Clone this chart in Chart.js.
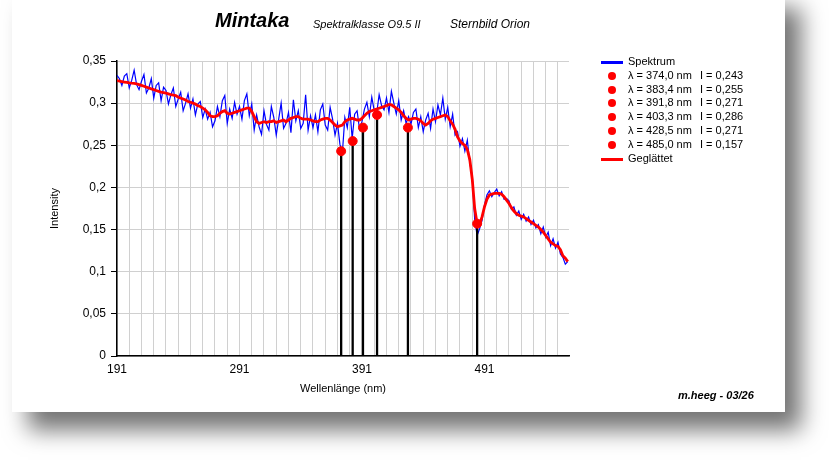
<html>
<head>
	<title>Mintaka</title>
	<meta charset="utf-8">
	<script src="https://cdn.jsdelivr.net/npm/chart.js@4.4.1/dist/chart.umd.min.js"></script>
	<style type="text/css">
	body{
		margin: 0;
		background-color: #fff;
		font-family: "Liberation Sans", Arial, sans-serif;
	}
	.karte{
		position: absolute;
		left: 12px;
		top: -10px;
		width: 773px;
		height: 422px;
		background-color: #fff;
		box-shadow: 16px 18px 22px rgba(0,0,0,0.55);
	}
	#chart{
		position: absolute;
		left: 0;
		top: 0;
	}
	.kopf{
		position: absolute;
		white-space: nowrap;
		font-style: italic;
		color: #000;
	}
	.stern{ left: 215px; top: 9px; font-size: 20px; font-weight: bold; }
	.klasse{ left: 313px; top: 18px; font-size: 11px; }
	.bild{ left: 450px; top: 17px; font-size: 12px; }
	.autor{ left: 678px; top: 389px; font-size: 11px; font-weight: bold; }

	#legende{
		position: absolute;
		left: 600px;
		top: 55px;
		font-size: 11px;
		color: #000;
	}
	#legende .zeile{
		position: relative;
		height: 13.8px;
		white-space: nowrap;
	}
	#legende .strich{
		position: absolute;
		left: 1px;
		top: 6px;
		width: 22px;
		height: 3px;
	}
	#legende .punkt{
		position: absolute;
		left: 8px;
		top: 3px;
		width: 8px;
		height: 8px;
		border-radius: 50%;
		background-color: #ff0000;
	}
	#legende .txt{ position: absolute; left: 28px; top: 0; }
	#legende .wert{ position: absolute; left: 100px; top: 0; }
	</style>
</head>
<body>
	<div class="karte"></div>
	<canvas id="chart" width="829" height="460"></canvas>
	<div class="kopf stern">Mintaka</div>
	<div class="kopf klasse">Spektralklasse O9.5 II</div>
	<div class="kopf bild">Sternbild Orion</div>
	<div class="kopf autor">m.heeg - 03/26</div>
	<div id="legende"></div>

	<script type="text/javascript">
	// Wellenlaengen (nm) der Messpunkte
	var wellenlaenge = [
		191,193,195,197,199,201,203,205,207,209,
		211,213,215,217,219,221,223,225,227,229,
		231,233,235,237,239,241,243,245,247,249,
		251,253,255,257,259,261,263,265,267,269,
		271,273,275,277,279,281,283,285,287,289,
		291,293,295,297,299,301,303,305,307,309,
		311,313,315,317,319,321,323,325,327,329,
		331,333,335,337,339,341,343,345,347,349,
		351,353,355,357,359,361,363,365,367,369,
		371,373,375,377,379,381,383,385,387,389,
		391,393,395,397,399,401,403,405,407,409,
		411,413,415,417,419,421,423,425,427,429,
		431,433,435,437,439,441,443,445,447,449,
		451,453,455,457,459,461,463,465,467,469,
		471,473,475,477,479,481,483,485,487,489,
		491,493,495,497,499,501,503,505,507,509,
		511,513,515,517,519,521,523,525,527,529,
		531,533,535,537,539,541,543,545,547,549,
		551,553,555,557,559
	];

	// Spektrum (Rohdaten)
	var spektrum = [
		.333,.329,.321,.332,.335,.318,.327,.339,.322,.316,
		.326,.334,.312,.318,.329,.306,.321,.324,.303,.319,
		.315,.299,.310,.318,.296,.305,.313,.291,.300,.311,
		.294,.305,.286,.299,.302,.283,.293,.281,.289,.272,
		.279,.296,.284,.303,.309,.276,.293,.282,.301,.287,
		.296,.281,.303,.311,.285,.299,.268,.286,.272,.263,
		.291,.275,.268,.296,.283,.262,.281,.300,.270,.276,
		.289,.265,.304,.279,.291,.270,.276,.310,.268,.285,
		.271,.286,.266,.292,.299,.274,.268,.295,.281,.262,
		.276,.251,.241,.283,.271,.295,.258,.287,.291,.269,
		.278,.293,.301,.284,.307,.291,.288,.310,.297,.292,
		.306,.289,.314,.300,.287,.303,.280,.291,.276,.284,
		.275,.289,.293,.271,.284,.266,.280,.288,.270,.293,
		.278,.298,.286,.306,.281,.295,.272,.287,.262,.266,
		.249,.258,.243,.256,.229,.214,.162,.143,.151,.161,
		.179,.191,.196,.189,.194,.198,.190,.195,.186,.187,
		.184,.174,.177,.167,.172,.162,.168,.160,.165,.156,
		.161,.152,.156,.145,.153,.141,.147,.131,.139,.128,
		.135,.121,.117,.109,.112
	];

	// geglaettetes Spektrum
	var geglaettet = [
		.327,.326,.3255,.325,.3245,.324,.3237,.3235,.323,.322,
		.321,.320,.319,.318,.317,.316,.315,.314,.313,.3125,
		.312,.311,.310,.3095,.309,.307,.306,.305,.3036,.302,
		.301,.300,.299,.297,.296,.294,.292,.289,.285,.284,
		.284,.285,.288,.290,.291,.288,.287,.288,.289,.290,
		.291,.292,.293,.294,.294,.290,.284,.278,.276,.277,
		.278,.277,.278,.278,.279,.277,.278,.279,.280,.278,
		.280,.282,.283,.284,.284,.282,.281,.281,.281,.280,
		.279,.278,.278,.280,.281,.282,.282,.280,.277,.274,
		.272,.273,.274,.278,.280,.281,.282,.281,.280,.280,
		.282,.285,.288,.290,.291,.292,.293,.294,.295,.296,
		.297,.2985,.298,.296,.294,.292,.289,.285,.282,.280,
		.281,.282,.282,.281,.279,.276,.274,.276,.279,.281,
		.282,.283,.284,.285,.286,.284,.279,.275,.269,.260,
		.255,.252,.250,.245,.233,.210,.175,.157,.156,.165,
		.177,.186,.191,.192,.193,.193,.193,.192,.189,.185,
		.181,.176,.172,.169,.167,.166,.165,.163,.161,.159,
		.157,.155,.153,.150,.147,.143,.139,.135,.133,.131,
		.130,.126,.119,.116,.112
	];

	// markierte Linien
	var linienLambda = [374.0, 383.4, 391.8, 403.3, 428.5, 485.0];
	var linienI = [0.243, 0.255, 0.271, 0.286, 0.271, 0.157];

	// Achsen
	var xGitter = [191,201,211,221,231,241,251,261,271,281,291,301,311,321,331,341,351,361,371,381,391,401,411,421,431,441,451,461,471,481,491,501,511,521,531,541,551];
	var xBeschriftung = [191, 291, 391, 491];

	function komma(v, n){
		return v.toFixed(n).replace('.', ',');
	}

	Chart.defaults.font.family = '"Liberation Sans", Arial, sans-serif';
	Chart.defaults.color = '#000';

	var punkte = function(xs, ys){
		return xs.map(function(x, i){ return {x: x, y: ys[i]}; });
	};

	var datensaetze = [{
		label: 'Spektrum',
		data: punkte(wellenlaenge, spektrum),
		borderColor: '#0000ff',
		borderWidth: 1.2,
		pointRadius: 0,
		order: 5
	}];
	linienLambda.forEach(function(l, i){
		datensaetze.push({
			label: 'linie' + i,
			data: [{x: l, y: 0}, {x: l, y: linienI[i]}],
			borderColor: '#000',
			borderWidth: 2.3,
			pointRadius: 0,
			order: 4
		});
	});
	datensaetze.push({
		label: 'Geglättet',
		data: punkte(wellenlaenge, geglaettet),
		borderColor: '#ff0000',
		borderWidth: 2.8,
		pointRadius: 0,
		order: 3
	});
	datensaetze.push({
		label: 'Linien',
		type: 'scatter',
		data: punkte(linienLambda, linienI),
		backgroundColor: '#ff0000',
		borderColor: '#ff0000',
		pointRadius: 4.5,
		order: 1
	});

	new Chart(document.getElementById('chart'), {
		type: 'line',
		data: { datasets: datensaetze },
		options: {
			responsive: false,
			animation: false,
			layout: { padding: { left: 44, top: 61, right: 260, bottom: 60 } },
			elements: { line: { tension: 0 } },
			plugins: { legend: { display: false }, tooltip: { enabled: false } },
			scales: {
				x: {
					type: 'linear',
					min: 191,
					max: 560,
					afterBuildTicks: function(s){
						s.ticks = xGitter.map(function(v){ return {value: v}; });
					},
					afterFit: function(s){ s.height = 44; },
					grid: { color: '#d0d0d0', drawTicks: false },
					border: { color: '#000', width: 1.5 },
					ticks: {
						autoSkip: false,
						maxRotation: 0,
						padding: 6,
						font: { size: 12 },
						callback: function(v){
							return xBeschriftung.indexOf(Math.round(v)) >= 0 ? String(Math.round(v)) : '';
						}
					},
					title: { display: true, text: 'Wellenlänge (nm)', font: { size: 11 } }
				},
				y: {
					min: 0,
					max: 0.35,
					afterFit: function(s){ s.width = 73; },
					grid: { color: '#d0d0d0', tickColor: '#000', tickLength: 6 },
					border: { color: '#000', width: 1.5 },
					ticks: {
						stepSize: 0.05,
						padding: 5,
						font: { size: 12 },
						callback: function(v){
							return String(parseFloat(v.toFixed(2))).replace('.', ',');
						}
					},
					title: { display: true, text: 'Intensity', font: { size: 11 } }
				}
			}
		}
	});

	// Legende
	var leg = document.getElementById('legende');
	var html = '<div class="zeile"><div class="strich" style="background:#0000ff"></div><span class="txt">Spektrum</span></div>';
	linienLambda.forEach(function(l, i){
		html += '<div class="zeile"><div class="punkt"></div><span class="txt">λ = ' + komma(l, 1) + ' nm</span><span class="wert">I = ' + komma(linienI[i], 3) + '</span></div>';
	});
	html += '<div class="zeile"><div class="strich" style="background:#ff0000"></div><span class="txt">Geglättet</span></div>';
	leg.innerHTML = html;
	</script>
</body>
</html>
